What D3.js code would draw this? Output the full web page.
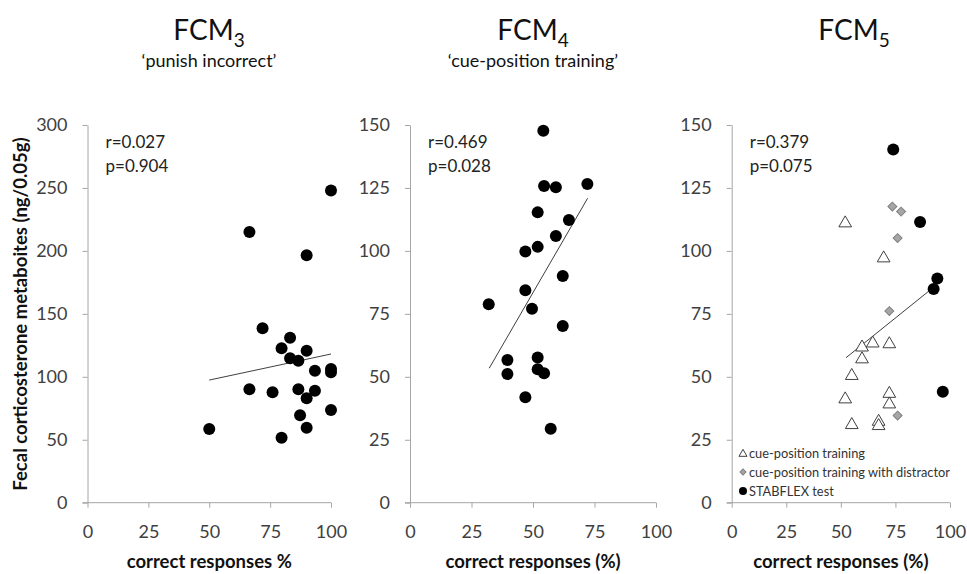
<!DOCTYPE html>
<html>
<head>
<meta charset="utf-8">
<script src="https://cdn.jsdelivr.net/npm/d3@7"></script>
<style>
  body { margin: 0; background: #fff; }
  text { font-family: Lato, "Open Sans", sans-serif; }
  .axis path, .axis line { stroke: #a6a6a6; }
  .axis text { fill: #404040; font-size: 18px; }
</style>
</head>
<body>
<div id="graphic"></div>
<script>
// FCM3 'punish incorrect'
var fcm3X = [100, 66.5, 90, 71.9, 83.2, 79.7, 90, 83.2, 86.6, 93.4, 100, 100, 66.5, 76, 86.6, 93.4, 90, 100, 87.3, 50, 90, 79.7];
var fcm3Y = [248, 215, 196.5, 138.5, 131, 122.6, 120.7, 114.7, 112.8, 104.8, 106.2, 103.6, 90.1, 87.7, 90.1, 89, 82.9, 73.6, 69.4, 58.5, 59.6, 51.6];
var fcm3Trend = [[50, 97.4], [100, 118.1]];

// FCM4 'cue-position training'
var fcm4X = [54.2, 54.5, 59.3, 72.1, 51.9, 64.6, 59.3, 46.9, 51.9, 62.1, 46.9, 32, 49.6, 62.1, 39.6, 51.9, 39.6, 51.9, 54.5, 46.9, 57.2];
var fcm4Y = [147.7, 125.8, 125.3, 126.6, 115.3, 112.3, 105.9, 99.8, 101.6, 90, 84.4, 78.8, 77, 70.2, 56.7, 57.7, 51.1, 53, 51.4, 41.9, 29.4];
var fcm4Trend = [[32.2, 53.4], [72.2, 120.9]];

// FCM5, three groups
var cueX = [52, 69.6, 59.7, 64.6, 72.2, 59.7, 55, 52, 72.2, 72.2, 55, 67.3, 67.3];
var cueY = [111, 97.1, 61.7, 63.3, 63, 57, 50.4, 41.1, 43.3, 39.1, 30.9, 32.2, 30.5];
var distX = [73.6, 77.6, 76, 72.2, 76];
var distY = [117.6, 115.6, 105.1, 76.1, 34.6];
var stabX = [74, 86.3, 94.2, 92.5, 96.7];
var stabY = [140.3, 111.5, 89, 84.9, 44.1];
var fcm5Trend = [[52.4, 57.6], [92.4, 85.5]];

var xTicks = [0, 25, 50, 75, 100];
var yTicks300 = [0, 50, 100, 150, 200, 250, 300];
var yTicks150 = [0, 25, 50, 75, 100, 125, 150];

var legendLabels = ["cue-position training", "cue-position training with distractor", "STABFLEX test"];

var width = 967, height = 574;
var top_ = 125, bottom = 502.7;

var svg = d3.select('#graphic').append('svg')
  .attr('width', width)
  .attr('height', height);

var panels = [
  { x0: 87.5, x1: 331, yMax: 300, yTicks: yTicks300, title: "3", sub: "\u2018punish incorrect\u2019", tx: 209,
    xLabel: "correct responses %", r: "r=0.027", p: "p=0.904", trend: fcm3Trend },
  { x0: 410, x1: 656, yMax: 150, yTicks: yTicks150, title: "4", sub: "\u2018cue-position training\u2019", tx: 533,
    xLabel: "correct responses (%)", r: "r=0.469", p: "p=0.028", trend: fcm4Trend },
  { x0: 731.7, x1: 950, yMax: 150, yTicks: yTicks150, title: "5", sub: null, tx: 854,
    xLabel: "correct responses (%)", r: "r=0.379", p: "p=0.075", trend: fcm5Trend }
];

panels.forEach(function(pn) {
  pn.x = d3.scaleLinear().domain([0, 100]).range([pn.x0, pn.x1]);
  pn.y = d3.scaleLinear().domain([0, pn.yMax]).range([bottom, top_]);

  // axes
  svg.append('g')
    .attr('class', 'axis')
    .attr('transform', 'translate(0,' + bottom + ')')
    .call(d3.axisBottom(pn.x).tickValues(xTicks).tickSize(5).tickPadding(18).tickSizeOuter(0))
    .call(g => g.select('.domain').attr('d', 'M' + (pn.x0 - 5) + ',0H' + pn.x1));

  svg.append('g')
    .attr('class', 'axis')
    .attr('transform', 'translate(' + pn.x0 + ',0)')
    .call(d3.axisLeft(pn.y).tickValues(pn.yTicks).tickSize(5).tickPadding(15).tickSizeOuter(0));

  // title
  var t = svg.append('text')
    .attr('x', pn.tx)
    .attr('y', 40)
    .attr('text-anchor', 'middle')
    .attr('fill', '#111')
    .style('font-size', '28px')
    .text('FCM');
  t.append('tspan')
    .attr('dy', 7)
    .style('font-size', '19px')
    .text(pn.title);

  if (pn.sub) {
    svg.append('text')
      .attr('x', pn.tx)
      .attr('y', 67)
      .attr('text-anchor', 'middle')
      .attr('fill', '#111')
      .style('font-size', '18px')
      .text(pn.sub);
  }

  // x label
  svg.append('text')
    .attr('x', (pn.x0 + pn.x1) / 2)
    .attr('y', 568)
    .attr('text-anchor', 'middle')
    .attr('fill', '#111')
    .style('font-size', '18.5px')
    .style('font-weight', 'bold')
    .text(pn.xLabel);

  // r / p
  svg.append('text')
    .attr('x', pn.x0 + 18)
    .attr('y', 148)
    .attr('fill', '#222')
    .style('font-size', '17px')
    .text(pn.r);
  svg.append('text')
    .attr('x', pn.x0 + 18)
    .attr('y', 172)
    .attr('fill', '#222')
    .style('font-size', '17px')
    .text(pn.p);

  // trend line
  svg.append('path')
    .attr('d', d3.line().x(d => pn.x(d[0])).y(d => pn.y(d[1]))(pn.trend))
    .attr('stroke', '#404040')
    .attr('stroke-width', 1)
    .attr('fill', 'none');
});

// y axis title
svg.append('text')
  .attr('transform', 'translate(27,314) rotate(-90)')
  .attr('text-anchor', 'middle')
  .attr('fill', '#111')
  .style('font-size', '18.5px')
  .style('font-weight', 'bold')
  .text('Fecal corticosterone metaboites (ng/0.05g)');

function dots(pn, xs, ys) {
  svg.append('g').selectAll('circle')
    .data(xs.map((d, i) => [d, ys[i]]))
    .join('circle')
    .attr('cx', d => pn.x(d[0]))
    .attr('cy', d => pn.y(d[1]))
    .attr('r', 6)
    .attr('fill', '#000');
}

dots(panels[0], fcm3X, fcm3Y);
dots(panels[1], fcm4X, fcm4Y);

var p3 = panels[2];
var tri = d3.symbol().type(d3.symbolTriangle).size(70);
var dia = d3.symbol().type(d3.symbolSquare).size(40);

svg.append('g').selectAll('path')
  .data(cueX.map((d, i) => [d, cueY[i]]))
  .join('path')
  .attr('d', tri)
  .attr('transform', d => 'translate(' + p3.x(d[0]) + ',' + p3.y(d[1]) + ')')
  .attr('fill', '#fff')
  .attr('stroke', '#404040')
  .attr('stroke-width', 1);

svg.append('g').selectAll('path')
  .data(distX.map((d, i) => [d, distY[i]]))
  .join('path')
  .attr('d', dia)
  .attr('transform', d => 'translate(' + p3.x(d[0]) + ',' + p3.y(d[1]) + ') rotate(45)')
  .attr('fill', '#a6a6a6')
  .attr('stroke', '#7f7f7f')
  .attr('stroke-width', 1);

dots(p3, stabX, stabY);

// legend
var leg = svg.append('g').attr('transform', 'translate(743,453)');
legendLabels.forEach(function(lab, i) {
  var g = leg.append('g').attr('transform', 'translate(0,' + (i * 19) + ')');
  if (i == 0) {
    g.append('path').attr('d', d3.symbol().type(d3.symbolTriangle).size(28)).attr('transform', 'translate(0,1)')
      .attr('fill', '#fff').attr('stroke', '#404040');
  } else if (i == 1) {
    g.append('path').attr('d', d3.symbol().type(d3.symbolSquare).size(18)).attr('transform', 'rotate(45)')
      .attr('fill', '#a6a6a6').attr('stroke', '#7f7f7f');
  } else {
    g.append('circle').attr('r', 4).attr('fill', '#000');
  }
  g.append('text')
    .attr('x', 6)
    .attr('y', 5)
    .attr('fill', '#333')
    .style('font-size', '12.8px')
    .text(lab);
});
</script>
</body>
</html>
